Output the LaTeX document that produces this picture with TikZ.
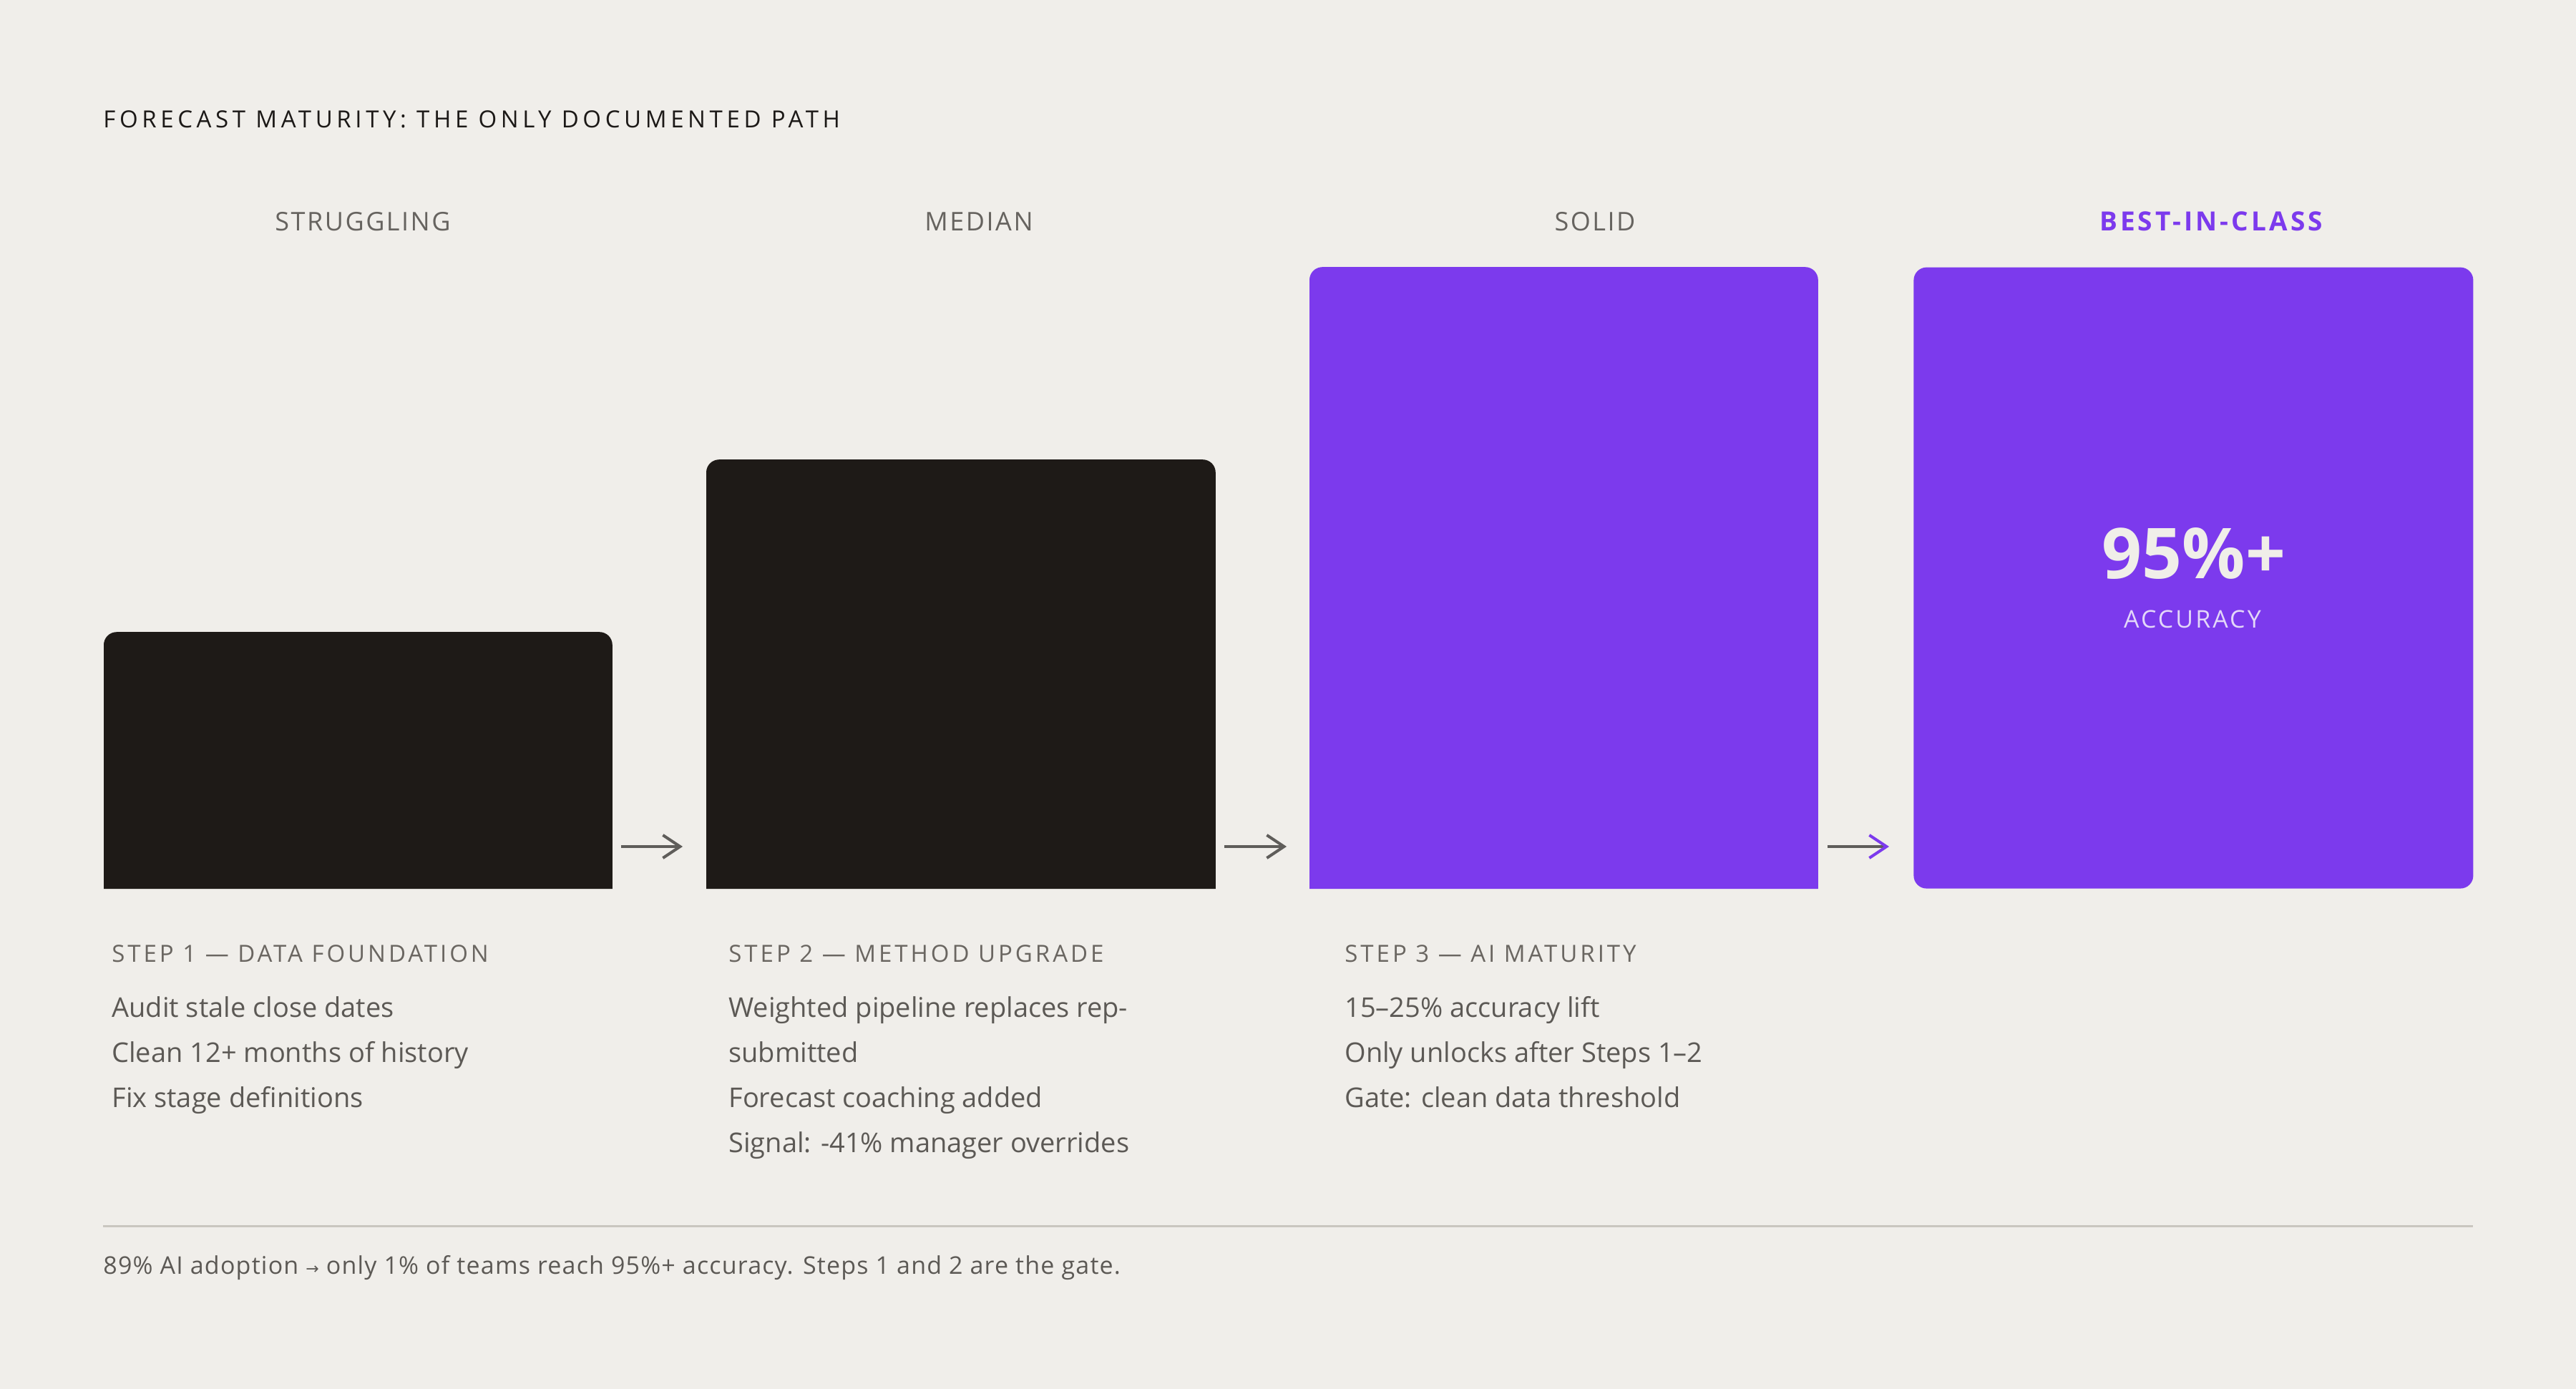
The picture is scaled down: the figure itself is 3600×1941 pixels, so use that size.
\documentclass[tikz,border=0pt]{standalone}
\usepackage{fontspec}
\setmainfont{Open Sans}
\newfontfamily\titlefont[LetterSpace=17]{Open Sans}
\newfontfamily\stepfont[LetterSpace=12]{Open Sans}
\newfontfamily\labelfont[LetterSpace=7]{Open Sans}
\newfontfamily\bestfont[LetterSpace=11]{Open Sans}
\newfontfamily\accfont[LetterSpace=9]{Open Sans}
\newfontfamily\footfont[LetterSpace=3.5]{Open Sans}
\newfontfamily\symfont{DejaVu Sans}
\usetikzlibrary{arrows.meta,calc}
\definecolor{bg}{HTML}{F0EEEA}
\definecolor{ink}{HTML}{1E1A17}
\definecolor{vio}{HTML}{7C3AED}
\definecolor{titlec}{HTML}{1C1917}
\definecolor{labelc}{HTML}{66635F}
\definecolor{stepc}{HTML}{6A6661}
\definecolor{bodyc}{HTML}{5C5955}
\definecolor{arrc}{HTML}{5F5D5A}
\definecolor{sepc}{HTML}{C9C6C0}
\definecolor{numc}{HTML}{F0EEE9}
\definecolor{accc}{HTML}{E3D7F9}
\begin{document}
\begin{tikzpicture}[x=0.5pt,y=-0.5pt,
  txt/.style={inner sep=0pt,anchor=base west},
  ctxt/.style={inner sep=0pt,anchor=base},
  titletxt/.style={txt,text=titlec,font=\titlefont\fontsize{16.5pt}{20pt}\selectfont},
  coltxt/.style={ctxt,text=labelc,font=\labelfont\fontsize{18pt}{22pt}\selectfont},
  steptxt/.style={txt,text=stepc,font=\stepfont\fontsize{16.5pt}{20pt}\selectfont},
  bodytxt/.style={txt,text=bodyc,font=\fontsize{19pt}{23pt}\selectfont},
  foottxt/.style={txt,text=bodyc,font=\footfont\fontsize{17pt}{20pt}\selectfont},
  boxslot/.style={inner sep=0pt,anchor=south west},
  arr/.style={draw=arrc,line width=2pt,-{Straight Barb[length=12pt,width=16pt]}},
  varr/.style={draw=arrc,line width=2pt,-{Straight Barb[length=12pt,width=16pt,color=vio]}}
]
\fill[bg] (0,0) rectangle (3600,1941);
\useasboundingbox (0,0) rectangle (3600,1941);

% title
\node[titletxt] (title) at (144,179) {FORECAST MATURITY: THE ONLY DOCUMENTED PATH};

% column labels
\node[coltxt] (l1) at (507,323) {STRUGGLING};
\node[coltxt] (l2) at (1368,323) {MEDIAN};
\node[coltxt] (l3) at (2229,323) {SOLID};
\node[ctxt,text=vio,font=\bestfont\bfseries\fontsize{18.5pt}{22pt}\selectfont] (l4) at (3090,323) {BEST-IN-CLASS};

% boxes (top corners rounded)
\node[boxslot,minimum width=355pt,minimum height=179pt] (b1) at (145,1242) {};
\fill[ink] (b1.south west) [rounded corners=9pt] -- (b1.north west) -- (b1.north east) [sharp corners] -- (b1.south east) -- cycle;
\node[boxslot,minimum width=355.5pt,minimum height=299.5pt] (b2) at (987,1242) {};
\fill[ink] (b2.south west) [rounded corners=9pt] -- (b2.north west) -- (b2.north east) [sharp corners] -- (b2.south east) -- cycle;
\node[boxslot,minimum width=355pt,minimum height=434pt] (b3) at (1830,1242) {};
\fill[vio] (b3.south west) [rounded corners=9pt] -- (b3.north west) -- (b3.north east) [sharp corners] -- (b3.south east) -- cycle;
\node[boxslot,fill=vio,rounded corners=9pt,minimum width=391pt,minimum height=434pt] (b4) at (2674,1242) {};

% big number
\node[ctxt,text=numc,font=\bfseries\fontsize{49pt}{56pt}\selectfont] (num) at (3066,808) {95\%+};
\node[ctxt,text=accc,font=\accfont\fontsize{17pt}{21pt}\selectfont] (acc) at (3064,877) {ACCURACY};

% arrows
\draw[arr] ($(b1.south east)+(12,-59)$) -- ($(b2.south west)+(-33,-59)$);
\draw[arr] ($(b2.south east)+(12,-59)$) -- ($(b3.south west)+(-32,-59)$);
\draw[varr] ($(b3.south east)+(13,-59)$) -- ($(b4.south west)+(-34,-59)$);

% step 1
\node[steptxt] (s1) at (156,1344) {STEP 1 — DATA FOUNDATION};
\node[bodytxt] (s1a) at (156,1421) {Audit stale close dates};
\node[bodytxt] (s1b) at (156,1484) {Clean 12+ months of history};
\node[bodytxt] (s1c) at (156,1547) {Fix stage definitions};

% step 2
\node[steptxt] (s2) at (1018,1344) {STEP 2 — METHOD UPGRADE};
\node[bodytxt] (s2a) at (1018,1421) {Weighted pipeline replaces rep-};
\node[bodytxt] (s2b) at (1018,1484) {submitted};
\node[bodytxt] (s2c) at (1018,1547) {Forecast coaching added};
\node[bodytxt] (s2d) at (1018,1610) {Signal: -41\% manager overrides};

% step 3
\node[steptxt] (s3) at (1879,1344) {STEP 3 — AI MATURITY};
\node[bodytxt] (s3a) at (1879,1421) {15–25\% accuracy lift};
\node[bodytxt] (s3b) at (1879,1484) {Only unlocks after Steps 1–2};
\node[bodytxt] (s3c) at (1879,1547) {Gate: clean data threshold};

% separator and footer
\coordinate (sepL) at (144,1713);
\coordinate (sepR) at (3456,1713);
\draw[sepc,line width=1.5pt] (sepL) -- (sepR);
\node[foottxt] (foot) at (144,1780) {89\% AI adoption {\symfont\fontsize{11pt}{13pt}\selectfont →} only 1\% of teams reach 95\%+ accuracy. Steps 1 and 2 are the gate.};
\end{tikzpicture}
\end{document}
